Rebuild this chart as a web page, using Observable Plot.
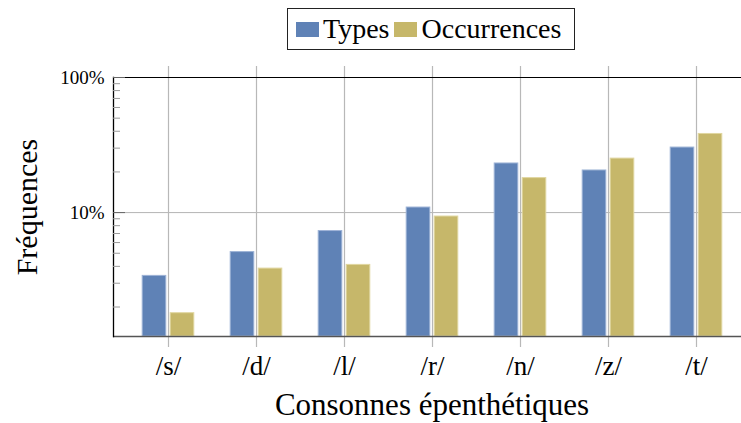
<!DOCTYPE html>
<html>
<head>
<meta charset="utf-8">
<script src="https://cdn.jsdelivr.net/npm/d3@7"></script>
<script src="https://cdn.jsdelivr.net/npm/@observablehq/plot@0.6"></script>
<style>
  html, body { margin: 0; padding: 0; background: #fff; overflow: hidden; width: 741px; height: 423px; }
  #wrap { position: relative; width: 741px; height: 423px; overflow: hidden; font-family: "Liberation Serif", serif; }
  #legend { height: 60px; position: relative; }
  #legend .box {
    position: absolute; left: 287px; top: 8px; width: 288px; height: 42px; box-sizing: border-box;
    border: 1px solid #222; display: flex; align-items: center; padding-left: 8px;
    font-size: 28px; color: #000; line-height: 1;
  }
  #legend .sw { width: 23px; height: 15px; display: inline-block; margin-right: 4px; }
  #legend .lab { margin-right: 5px; }
  #chart svg { max-width: none !important; display: block; }
</style>
</head>
<body>
<div id="wrap">
  <div id="legend"><div class="box"></div></div>
  <div id="chart"></div>
</div>
<script>
const categories = ["/s/", "/d/", "/l/", "/r/", "/n/", "/z/", "/t/"];
const series = ["Types", "Occurrences"];
const types = [3.4, 5.1, 7.3, 10.9, 23.1, 20.5, 30.3];
const occurrences = [1.8, 3.85, 4.1, 9.35, 18.0, 25.1, 38.2];
const yDomain = [1.21, 100];
const yMajor = [10, 100];
const yMinor = [2, 3, 4, 5, 6, 7, 8, 9, 20, 30, 40, 50, 60, 70, 80, 90];
const colors = ["#5f82b6", "#c6b76a"];
const strokes = ["#9db3d6", "#e0d6a0"];

const typeRows = categories.map((c, i) => ({cat: c, v: types[i]}));
const occRows = categories.map((c, i) => ({cat: c, v: occurrences[i]}));

// legend
const box = document.querySelector("#legend .box");
series.forEach((s, i) => {
  const sw = document.createElement("span");
  sw.className = "sw"; sw.style.background = colors[i];
  const t = document.createElement("span");
  t.className = "lab"; t.textContent = s;
  box.appendChild(sw); box.appendChild(t);
});

const chart = Plot.plot({
  width: 760,
  height: 363,
  marginLeft: 113,
  marginRight: 10,
  marginTop: 17,
  marginBottom: 87,
  style: {fontFamily: "Liberation Serif, serif", background: "white", overflow: "visible", color: "#000", maxWidth: "none"},
  x: {type: "band", domain: categories, paddingInner: 0, paddingOuter: 0.1, label: null},
  y: {type: "log", domain: yDomain, label: null},
  marks: [
    Plot.ruleY([10], {stroke: "#b5b5b5", strokeWidth: 1}),
    Plot.ruleX(categories, {x: d => d, stroke: "#b8b8b8", strokeWidth: 1.2, insetTop: -11, insetBottom: -11}),
    Plot.barY(typeRows, {x: "cat", y1: yDomain[0], y2: "v", fill: colors[0], stroke: strokes[0], strokeWidth: 1, insetLeft: 18.2, insetRight: 46.2}),
    Plot.barY(occRows, {x: "cat", y1: yDomain[0], y2: "v", fill: colors[1], stroke: strokes[1], strokeWidth: 1, insetLeft: 46.2, insetRight: 18.2}),
    Plot.ruleY([yDomain[1]], {stroke: "#000", strokeWidth: 1.2}),
    Plot.ruleY([yDomain[0]], {stroke: "#555", strokeWidth: 1.6}),
    Plot.frame({anchor: "left", stroke: "#000", strokeWidth: 1.3}),
    Plot.axisY(yMinor, {tickSize: -7, stroke: "#9a9a9a", text: null}),
    Plot.axisY(yMajor, {tickSize: -12, stroke: "#666", tickPadding: 21, fontSize: 19, tickFormat: d => d + "%"}),
    Plot.axisX({tickSize: 0, tickPadding: 19, fontSize: 27, style: "letter-spacing: 3px"}),
    Plot.text(["Fréquences"], {frameAnchor: "left", textAnchor: "middle", rotate: -90, dx: -86, fontSize: 30, text: d => d}),
    Plot.text(["Consonnes épenthétiques"], {frameAnchor: "bottom", dy: 78, fontSize: 31, text: d => d})
  ]
});
document.getElementById("chart").appendChild(chart);
</script>
</body>
</html>
